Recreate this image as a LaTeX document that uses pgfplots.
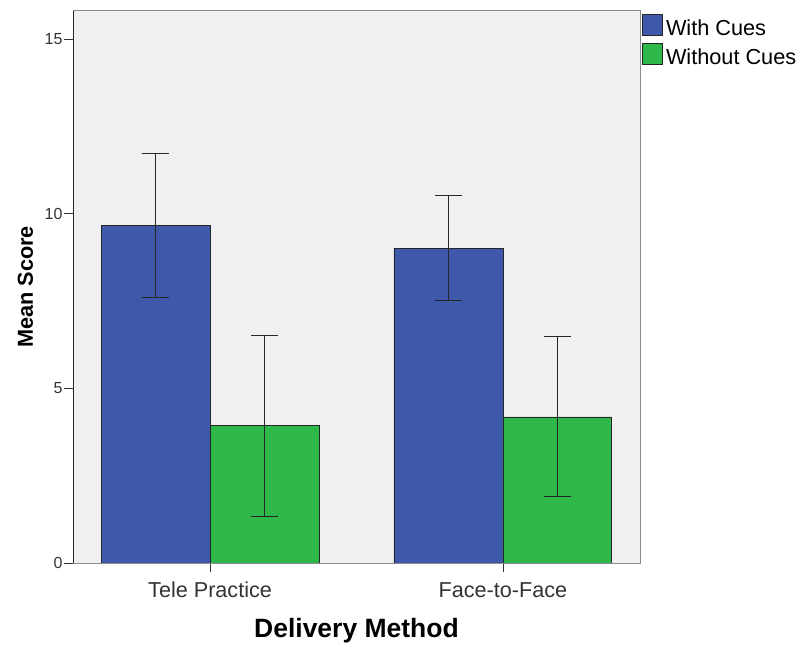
\documentclass[border=0pt]{standalone}
\usepackage{fontspec}
\setmainfont{Liberation Sans}
\usepackage{pgfplots}
\pgfplotsset{compat=1.18}
\definecolor{cueblue}{RGB}{62,88,170}
\definecolor{cuegreen}{RGB}{46,184,74}
\definecolor{bggray}{RGB}{240,240,240}
\definecolor{framegray}{RGB}{140,140,140}
\begin{document}
\begin{tikzpicture}
\begin{axis}[
  at={(73bp,84bp)}, anchor=south west,
  scale only axis,
  width=567bp, height=552.3bp,
  xmin=-0.468, xmax=1.468,
  ymin=0, ymax=15.81,
  ybar=0pt, bar width=0.372,
  axis background/.style={fill=bggray},
  axis line style={draw=framegray, line width=0.8bp},
  xtick={0,1}, xticklabels={Tele Practice, Face-to-Face},
  ytick={0,5,10,15},
  tick align=outside,
  major tick length=9bp,
  tick style={draw=black!80, line width=0.8bp},
  xtick pos=bottom, ytick pos=left,
  /pgf/number format/assume math mode=true,
  yticklabel style={font=\fontsize{16bp}{18bp}\selectfont, text=black!80, xshift=2bp},
  xticklabel style={font=\fontsize{21.6bp}{26bp}\selectfont, text=black!80, text height=16bp, text depth=5bp, yshift=-6bp},
  ylabel={\bfseries Mean Score},
  ylabel style={font=\fontsize{21.7bp}{26bp}\selectfont, at={(axis description cs:0,0.5)}, anchor=base, yshift=40bp},
  xlabel={\bfseries Delivery Method},
  xlabel style={font=\fontsize{26.5bp}{32bp}\selectfont, at={(axis description cs:0.5,0)}, anchor=base, yshift=-74bp},
  legend style={at={(axis description cs:1,1)}, anchor=north west, xshift=2bp, yshift=-3bp,
    draw=none, fill=none, font=\fontsize{21.7bp}{26bp}\selectfont, inner sep=0pt,
    row sep=4bp, column sep=0pt,
    nodes={inner xsep=3bp, inner ysep=2bp}},
  legend cell align=left,
  legend image code/.code={\draw[#1, draw=black!85, line width=0.8bp] (0bp,-7bp) rectangle (20bp,14bp);},
  error bars/y dir=both, error bars/y explicit,
  error bars/error mark=-,
  error bars/error mark options={mark size=13.5bp, line width=1bp, draw=black!85, rotate=90},
  error bars/error bar style={line width=1bp, draw=black!85},
]
\addplot[fill=cueblue, draw=black!85, line width=0.8bp] coordinates {(0,9.66) +- (0,2.07) (1,9.01) +- (0,1.50)};
\addplot[fill=cuegreen, draw=black!85, line width=0.8bp] coordinates {(0,3.93) +- (0,2.59) (1,4.18) +- (0,2.29)};
\legend{With Cues, Without Cues}
\draw[black!85, line width=0.9bp] (rel axis cs:0,1) -- (rel axis cs:0,0) -- (rel axis cs:1,0);
\end{axis}
\pgfresetboundingbox
\path (0,0) rectangle (797bp,647bp);
\end{tikzpicture}
\end{document}
